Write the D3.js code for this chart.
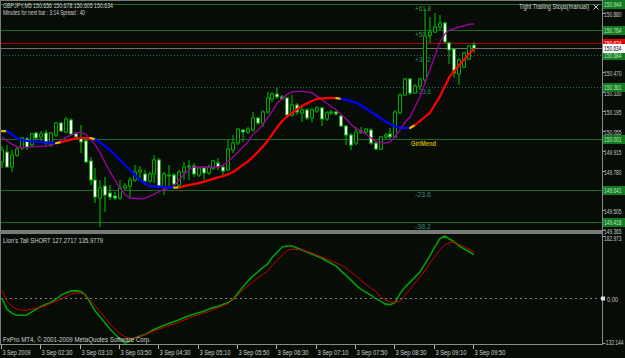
<!DOCTYPE html>
<html>
<head>
<meta charset="utf-8">
<script src="https://cdn.jsdelivr.net/npm/d3@7"></script>
<style>
  body { margin: 0; background: #070c07; }
  svg { display: block; font-family: "Liberation Sans", Arial, sans-serif; }
  .narrow { font-family: "Liberation Sans Narrow", "Liberation Sans", Arial, sans-serif; }
</style>
</head>
<body>
<svg id="chart" width="625" height="358"></svg>
<script>
// GBPJPY M5, 3 Sep 2009 01:50 .. 09:50 (97 bars)
var timeLabels = ["3 Sep 2009", "3 Sep 02:30", "3 Sep 03:10", "3 Sep 03:50", "3 Sep 04:30", "3 Sep 05:10",
  "3 Sep 05:50", "3 Sep 06:30", "3 Sep 07:10", "3 Sep 07:50", "3 Sep 08:30", "3 Sep 09:10", "3 Sep 09:50"];

var open = [149.840, 149.909, 149.805, 149.888, 149.937, 150.001, 149.958, 150.042, 150.015, 150.042,
  149.958, 150.028, 150.112, 150.049, 150.133, 150.042, 150.008, 149.987, 149.847, 149.714,
  149.588, 149.672, 149.623, 149.602, 149.588, 149.658, 149.672, 149.714, 149.770, 149.756,
  149.707, 149.756, 149.854, 149.665, 149.742, 149.749, 149.679, 149.770, 149.805, 149.812,
  149.749, 149.798, 149.763, 149.798, 149.833, 149.805, 149.784, 149.923, 149.972, 150.063,
  150.049, 150.063, 150.147, 150.112, 150.189, 150.280, 150.314, 150.294, 150.287, 150.168,
  150.238, 150.182, 150.203, 150.147, 150.196, 150.217, 150.140, 150.182, 150.189, 150.161,
  150.091, 150.028, 149.972, 150.049, 150.049, 150.063, 149.972, 149.930, 150.015, 150.035,
  150.015, 150.182, 150.307, 150.419, 150.321, 150.370, 150.412, 150.726, 150.747, 150.782,
  150.810, 150.671, 150.629, 150.454, 150.503, 150.559, 150.656];
var high = [149.951, 149.958, 149.923, 149.944, 150.015, 150.015, 150.042, 150.049, 150.056, 150.063,
  150.049, 150.119, 150.119, 150.154, 150.147, 150.049, 150.098, 150.015, 149.874, 149.798,
  149.714, 149.735, 149.679, 149.630, 149.714, 149.693, 149.735, 149.819, 149.812, 149.784,
  149.770, 149.888, 149.867, 149.770, 149.819, 149.763, 149.784, 149.840, 149.854, 149.833,
  149.805, 149.805, 149.819, 149.854, 149.867, 149.819, 149.994, 150.028, 150.077, 150.070,
  150.084, 150.189, 150.154, 150.203, 150.328, 150.328, 150.356, 150.307, 150.294, 150.307,
  150.252, 150.224, 150.217, 150.217, 150.231, 150.224, 150.196, 150.203, 150.196, 150.168,
  150.098, 150.042, 150.084, 150.084, 150.077, 150.077, 149.987, 150.021, 150.042, 150.077,
  150.203, 150.321, 150.426, 150.426, 150.384, 150.426, 150.908, 150.852, 150.880, 150.866,
  150.817, 150.678, 150.636, 150.566, 150.608, 150.657, 150.678];
var low = [149.798, 149.798, 149.770, 149.874, 149.923, 149.923, 149.944, 149.994, 149.980, 149.958,
  149.944, 150.015, 150.049, 150.042, 150.028, 149.994, 149.902, 149.833, 149.679, 149.553,
  149.386, 149.490, 149.574, 149.574, 149.574, 149.644, 149.595, 149.700, 149.728, 149.679,
  149.693, 149.693, 149.658, 149.609, 149.665, 149.665, 149.665, 149.714, 149.714, 149.735,
  149.735, 149.714, 149.749, 149.784, 149.784, 149.749, 149.777, 149.902, 149.958, 149.980,
  150.035, 150.049, 150.098, 150.084, 150.175, 150.259, 150.280, 150.273, 150.161, 150.154,
  150.168, 150.119, 150.133, 150.119, 150.182, 150.091, 150.126, 150.168, 150.161, 150.084,
  149.958, 149.923, 149.958, 150.035, 150.028, 149.958, 149.923, 149.923, 150.001, 150.001,
  150.008, 150.175, 150.300, 150.307, 150.314, 150.342, 150.398, 150.671, 150.740, 150.761,
  150.671, 150.524, 150.426, 150.377, 150.496, 150.552, 150.605];
var close = [149.923, 149.805, 149.888, 149.930, 150.008, 149.944, 150.035, 150.008, 150.035, 149.972,
  150.042, 150.112, 150.056, 150.140, 150.035, 150.015, 149.980, 149.840, 149.714, 149.595,
  149.658, 149.609, 149.595, 149.588, 149.658, 149.672, 149.714, 149.770, 149.784, 149.707,
  149.756, 149.854, 149.665, 149.756, 149.749, 149.686, 149.770, 149.805, 149.812, 149.756,
  149.798, 149.763, 149.805, 149.847, 149.805, 149.777, 149.930, 149.972, 150.070, 150.049,
  150.070, 150.147, 150.112, 150.189, 150.287, 150.314, 150.294, 150.280, 150.168, 150.238,
  150.189, 150.203, 150.147, 150.203, 150.217, 150.140, 150.182, 150.189, 150.175, 150.091,
  150.028, 149.958, 150.049, 150.056, 150.070, 149.972, 149.930, 150.015, 150.028, 150.015,
  150.189, 150.307, 150.419, 150.321, 150.370, 150.419, 150.719, 150.747, 150.782, 150.810,
  150.678, 150.622, 150.461, 150.552, 150.601, 150.650, 150.634];

// slow trend average (red up / blue down / yellow on turns)
var trendMA = [150.056, 150.056, 150.032, 150.007, 149.992, 149.988, 149.983, 149.981, 149.979, 149.976,
  149.974, 149.972, 149.978, 149.986, 149.996, 150.005, 150.007, 150.007, 150.007, 149.998,
  149.975, 149.948, 149.923, 149.888, 149.854, 149.819, 149.784, 149.749, 149.714, 149.693,
  149.672, 149.670, 149.668, 149.666, 149.663, 149.660, 149.662, 149.671, 149.678, 149.685,
  149.692, 149.701, 149.712, 149.722, 149.733, 149.741, 149.754, 149.770, 149.794, 149.819,
  149.843, 149.874, 149.909, 149.944, 149.986, 150.035, 150.084, 150.126, 150.157, 150.182,
  150.208, 150.231, 150.248, 150.266, 150.280, 150.283, 150.286, 150.286, 150.286, 150.281,
  150.273, 150.263, 150.254, 150.234, 150.213, 150.191, 150.168, 150.147, 150.123, 150.105,
  150.090, 150.077, 150.077, 150.077, 150.098, 150.126, 150.154, 150.182, 150.238, 150.293,
  150.363, 150.433, 150.475, 150.517, 150.555, 150.594, 150.629];
// faster purple average
var fastMA = [150.014, 149.986, 149.965, 149.948, 149.939, 149.942, 149.945, 149.947, 149.949, 149.951,
  149.960, 149.970, 149.989, 150.010, 150.025, 150.039, 150.048, 150.035, 149.998, 149.958,
  149.902, 149.833, 149.770, 149.714, 149.658, 149.613, 149.588, 149.585, 149.583, 149.585,
  149.601, 149.616, 149.634, 149.648, 149.660, 149.672, 149.714, 149.752, 149.784, 149.805,
  149.805, 149.805, 149.805, 149.805, 149.805, 149.819, 149.843, 149.874, 149.909, 149.944,
  149.979, 150.032, 150.059, 150.100, 150.147, 150.197, 150.252, 150.284, 150.312, 150.330,
  150.333, 150.333, 150.328, 150.323, 150.300, 150.276, 150.252, 150.227, 150.203, 150.171,
  150.140, 150.101, 150.073, 150.056, 150.035, 150.009, 149.984, 149.976, 149.972, 149.982,
  150.021, 150.067, 150.119, 150.154, 150.224, 150.293, 150.388, 150.482, 150.576, 150.671,
  150.731, 150.761, 150.771, 150.782, 150.791, 150.801, 150.803];

// Lion's Tail SHORT sub window
var lionGreen = [0.0, -32.5, -44.3, -50.2, -50.2, -50.2, -41.3, -32.5, -23.6, -17.7,
  -11.8, -3.0, 8.9, 14.8, 20.7, 22.1, 19.2, 8.9, -14.8, -38.4,
  -56.1, -73.8, -91.5, -106.2, -121.0, -132.144, -127.0, -117.0, -112.1, -107.7,
  -100.3, -91.5, -85.6, -79.7, -73.8, -69.3, -63.4, -57.5, -51.6, -47.2,
  -42.8, -38.4, -32.5, -28.0, -23.6, -17.7, -13.3, -3.0, 14.8, 32.5,
  50.2, 64.9, 76.7, 90.0, 100.3, 121.0, 135.7, 150.5, 153.5, 153.5,
  147.6, 141.7, 135.7, 129.8, 123.9, 118.0, 109.2, 101.8, 94.4, 79.7,
  66.4, 53.1, 38.4, 26.6, 17.7, 8.9, -1.5, -8.9, -17.7, -19.2,
  -11.8, 14.8, 32.5, 47.2, 62.0, 76.7, 100.3, 123.9, 150.5, 174.1,
  182.973, 174.1, 165.3, 153.5, 144.6, 137.2, 127.2717];
var lionRed = [23.6, -8.9, -23.6, -32.5, -35.4, -35.4, -32.5, -29.5, -26.6, -20.7,
  -14.8, -8.9, -3.0, 4.4, 11.8, 14.8, 14.8, 8.9, -5.9, -23.6,
  -41.3, -59.0, -76.7, -91.5, -104.8, -113.6, -118.0, -118.0, -113.6, -107.7,
  -101.8, -95.9, -91.5, -85.6, -79.7, -76.7, -70.8, -64.9, -59.0, -53.1,
  -48.7, -44.3, -39.8, -33.9, -28.0, -22.1, -16.2, -3.0, 8.9, 23.6,
  35.4, 47.2, 59.0, 69.3, 79.7, 97.4, 112.1, 126.9, 140.2, 144.6,
  143.1, 141.7, 137.2, 132.8, 126.9, 121.0, 115.1, 109.2, 103.3, 97.4,
  88.5, 76.7, 64.9, 53.1, 41.3, 30.0, 20.7, 3.0, -5.9, -11.8,
  -11.8, -8.9, 8.9, 26.6, 44.3, 62.0, 79.7, 103.3, 121.0, 141.6,
  156.4, 163.8, 165.3, 157.9, 152.0, 144.6, 135.9779];

var priceTicks = [150.880, 150.470, 150.330, 150.195, 150.055, 149.915, 149.780, 149.505, 149.365];
var fibLevels = ["+61.8", "+50.0", "+38.2", "+23.6", "0.0", "-23.6", "-38.2"];
var fibPrices = [150.944, 150.764, 150.584, 150.361, 150.001, 149.641, 149.418];
var stopPrice = 150.674;
var bidPrice = 150.634;
var lionTicks = [182.973, 0.00, -132.144];
var lionTickText = ["182.973", "0.00", "-132.144"];

var W = 625, H = 358;
var plotRight = 602;
var bg = "#070c07";
var candleGreen = "#00a800";

var svg = d3.select("#chart");
svg.append("rect").attr("width", W).attr("height", H).attr("fill", bg);

var x = d3.scaleLinear().domain([0, 96]).range([2, 474]);
var y = d3.scaleLinear().domain([149.365, 150.880]).range([230, 13]);
var yi = d3.scaleLinear().domain([-132.144, 182.973]).range([343, 236]);

function txt(g, px, py, s, fill, size, len) {
  var t = g.append("text").attr("x", px).attr("y", py).attr("fill", fill)
    .attr("font-size", size).text(s);
  if (len) t.attr("textLength", len).attr("lengthAdjust", "spacingAndGlyphs");
  return t;
}

svg.append("clipPath").attr("id", "mainClip").append("rect")
  .attr("x", 0).attr("y", 0).attr("width", plotRight).attr("height", 230);
svg.append("clipPath").attr("id", "subClip").append("rect")
  .attr("x", 0).attr("y", 234).attr("width", plotRight).attr("height", 110);

var main = svg.append("g").attr("clip-path", "url(#mainClip)");

// fibo levels
fibPrices.forEach(function (p, i) {
  var dotted = (i === 2 || i === 3);
  main.append("line")
    .attr("x1", 0).attr("x2", plotRight)
    .attr("y1", Math.round(y(p)) + 0.5).attr("y2", Math.round(y(p)) + 0.5)
    .attr("stroke", dotted ? "#1a6f6f" : "#1b6a2a")
    .attr("stroke-dasharray", dotted ? "1,2" : null);
  if (fibLevels[i] !== "0.0") {
    txt(main, 415, Math.round(y(p)) + 7, fibLevels[i], dotted || i > 4 ? "#2f8a7a" : "#4f8f4f", 7, 16);
  }
});
txt(main, 411, Math.round(y(fibPrices[4])) + 7, "GirlMend", "#c8b000", 7.5, 25).attr("font-weight", "bold");

// stop line and bid line
main.append("line").attr("x1", 0).attr("x2", plotRight)
  .attr("y1", Math.round(y(stopPrice)) + 0.5).attr("y2", Math.round(y(stopPrice)) + 0.5)
  .attr("stroke", "#b00000");
main.append("line").attr("x1", 0).attr("x2", plotRight)
  .attr("y1", Math.round(y(bidPrice)) + 0.5).attr("y2", Math.round(y(bidPrice)) + 0.5)
  .attr("stroke", "#707070");

// candles
var bars = d3.range(open.length);
var cg = main.append("g");
cg.selectAll("line.wick").data(bars).enter().append("line")
  .attr("class", "wick")
  .attr("x1", function (i) { return Math.round(x(i)); })
  .attr("x2", function (i) { return Math.round(x(i)); })
  .attr("y1", function (i) { return y(high[i]); })
  .attr("y2", function (i) { return y(low[i]); })
  .attr("stroke", candleGreen).attr("stroke-width", 1.2);
cg.selectAll("rect.body").data(bars).enter().append("rect")
  .attr("class", "body")
  .attr("x", function (i) { return Math.round(x(i)) - 1.5; })
  .attr("width", 3)
  .attr("y", function (i) { return y(Math.max(open[i], close[i])); })
  .attr("height", function (i) { return Math.max(0.8, Math.abs(y(open[i]) - y(close[i]))); })
  .attr("fill", function (i) { return close[i] < open[i] ? "#ffffff" : bg; })
  .attr("stroke", candleGreen).attr("stroke-width", 1);

// purple average
main.append("path").datum(fastMA)
  .attr("d", d3.line().x(function (d, i) { return x(i); }).y(function (d) { return y(d); }))
  .attr("fill", "none").attr("stroke", "#9c009c").attr("stroke-width", 1.4);

// trend average coloured by slope
var dir = 0;
for (var i = 0; i < trendMA.length - 1; i++) {
  var diff = trendMA[i + 1] - trendMA[i];
  var d = diff > 0 ? 1 : diff < 0 ? -1 : dir;
  var col = d > 0 ? "#ff0000" : "#0000ff";
  if (d === 0 || (dir !== 0 && d !== dir)) col = "#e0c000";
  if (d !== 0) dir = d;
  main.append("line")
    .attr("x1", x(i)).attr("y1", y(trendMA[i]))
    .attr("x2", x(i + 1)).attr("y2", y(trendMA[i + 1]))
    .attr("stroke", col).attr("stroke-width", 2.2).attr("stroke-linecap", "round");
}

// frame
svg.append("rect").attr("x", 0).attr("y", 230).attr("width", plotRight + 1).attr("height", 4).attr("fill", "#7a7a7a");
svg.append("line").attr("x1", 0.5).attr("x2", 0.5).attr("y1", 0).attr("y2", 344).attr("stroke", "#7a7a7a");
svg.append("line").attr("x1", 0).attr("x2", plotRight).attr("y1", 0.5).attr("y2", 0.5).attr("stroke", "#7a7a7a");
svg.append("line").attr("x1", plotRight + 0.5).attr("x2", plotRight + 0.5).attr("y1", 0).attr("y2", 345).attr("stroke", "#8a8a8a");
svg.append("line").attr("x1", 0).attr("x2", plotRight + 1).attr("y1", 344.5).attr("y2", 344.5).attr("stroke", "#8a8a8a");

// price axis
var axisG = svg.append("g").attr("class", "narrow");
priceTicks.forEach(function (p) {
  var py = Math.round(y(p)) + 0.5;
  axisG.append("line").attr("x1", plotRight).attr("x2", plotRight + 3).attr("y1", py).attr("y2", py).attr("stroke", "#9a9a9a");
  txt(axisG, 604, py + 3, p.toFixed(3), "#c8c8c8", 7, 17.5);
});

function box(p, fill, color) {
  var py = Math.round(y(p));
  axisG.append("rect").attr("x", 603).attr("y", py - 4).attr("width", 22).attr("height", 9).attr("fill", fill);
  txt(axisG, 604, py + 3, p.toFixed(3), color, 7, 17.5);
}
fibPrices.forEach(function (p) { box(p, "#137a22", "#bfe6bf"); });
box(stopPrice, "#e00000", "#ffffff");
box(bidPrice, "#ffffff", "#000000");

// header texts
txt(svg, 3, 8, "GBPJPY,M5  150.656 150.678 150.605 150.634", "#d0d0d0", 6.5, 110);
txt(svg, 3, 15, "Minutes for next bar : 3:14     Spread : 40", "#d0d0d0", 6.5, 82);
txt(svg, 519, 9, "Tight Trailing Stops(manual)", "#d8d8d8", 7, 70);
// close cross of the indicator label
svg.append("path").attr("d", "M593.5,4.5 L598.5,9.5 M598.5,4.5 L593.5,9.5")
  .attr("stroke", "#c8c8c8").attr("stroke-width", 1);

// sub window
var sub = svg.append("g").attr("clip-path", "url(#subClip)");
var zy = Math.round(yi(0)) + 0.5;
sub.append("line").attr("x1", 0).attr("x2", plotRight).attr("y1", zy).attr("y2", zy)
  .attr("stroke", "#808080").attr("stroke-dasharray", "2,3");
sub.append("path").datum(lionGreen)
  .attr("d", d3.line().x(function (d, i) { return x(i); }).y(function (d) { return yi(d); }))
  .attr("fill", "none").attr("stroke", "#00a000").attr("stroke-width", 1.6);
sub.append("path").datum(lionRed)
  .attr("d", d3.line().x(function (d, i) { return x(i); }).y(function (d) { return yi(d); }))
  .attr("fill", "none").attr("stroke", "#c80000").attr("stroke-width", 1);

txt(svg, 3, 243, "Lion's Tail SHORT 127.2717 135.9779", "#d0d0d0", 6.5, 100);
txt(svg, 3, 342, "FxPro MT4, \u00a9 2001-2009 MetaQuotes Software Corp.", "#d0d0d0", 6.5, 148);

var subAxis = svg.append("g").attr("class", "narrow");
lionTicks.forEach(function (v, k) {
  var py = Math.round(yi(v)) + 0.5;
  if (k === 1) {
    subAxis.append("rect").attr("x", 601).attr("y", py - 2).attr("width", 4).attr("height", 4).attr("fill", "#e0e0e0");
    txt(subAxis, 607, py + 3, lionTickText[k], "#c8c8c8", 7, 11);
  } else {
    subAxis.append("line").attr("x1", plotRight).attr("x2", plotRight + 3).attr("y1", py).attr("y2", py).attr("stroke", "#9a9a9a");
    txt(subAxis, 604, py + (k === 0 ? 4 : 1), lionTickText[k], "#c8c8c8", 7, lionTickText[k].length > 7 ? 19.5 : 17.5);
  }
});

// time axis
timeLabels.forEach(function (s, k) {
  var px = Math.round(x(k * 8)) - 0.5;
  svg.append("line").attr("x1", px).attr("x2", px).attr("y1", 345).attr("y2", 349).attr("stroke", "#b0b0b0");
  txt(svg, px + 1, 355, s, "#d0d0d0", 7, s.indexOf(":") > 0 ? 31 : 28);
});
</script>
</body>
</html>
